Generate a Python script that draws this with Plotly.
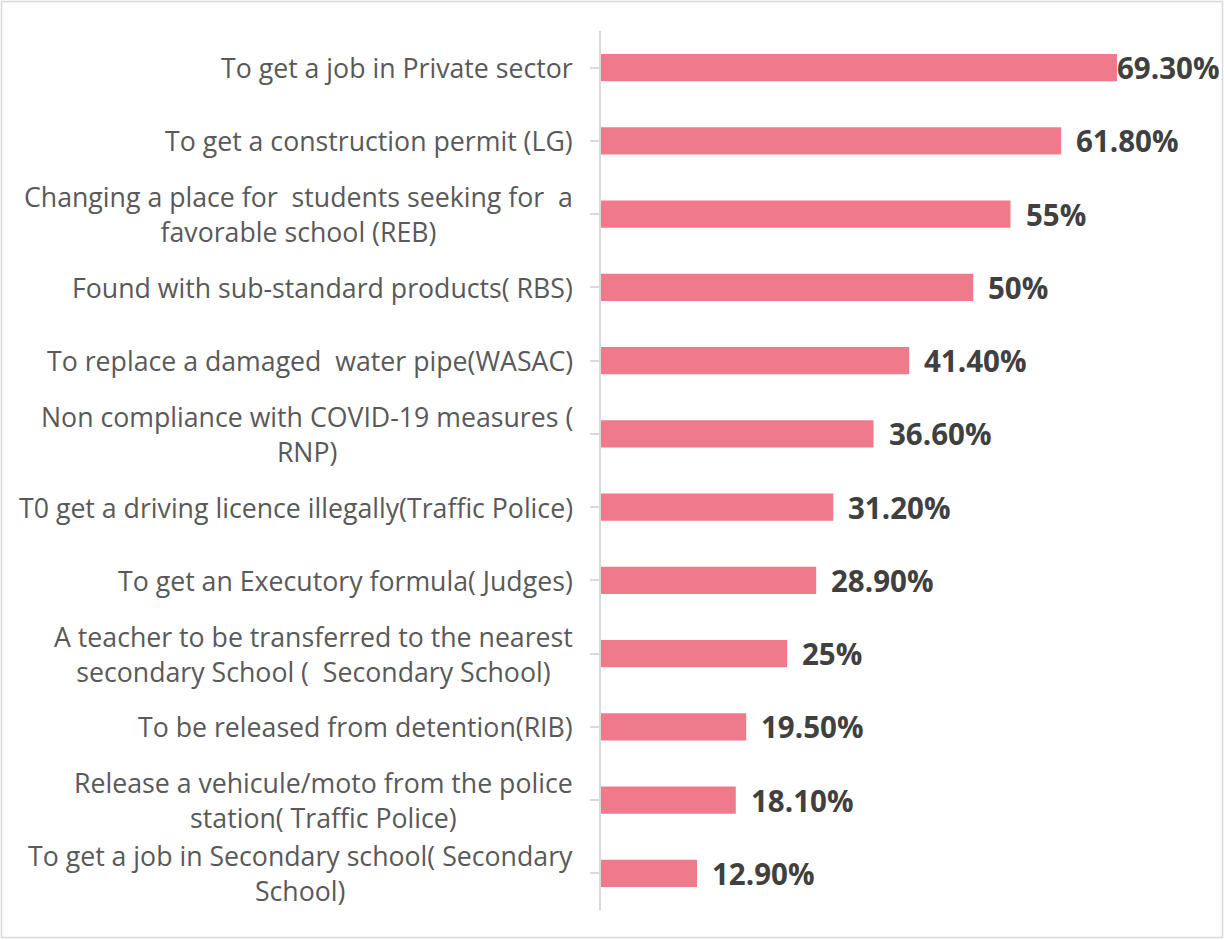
import plotly.graph_objects as go

categories = [
    "To get a job in Private sector",
    "To get a construction permit (LG)",
    "Changing a place for  students seeking for  a<br>favorable school (REB)",
    "Found with sub-standard products( RBS)",
    "To replace a damaged  water pipe(WASAC)",
    "Non compliance with COVID-19 measures (<br>RNP)",
    "T0 get a driving licence illegally(Traffic Police)",
    "To get an Executory formula( Judges)",
    "A teacher to be transferred to the nearest<br>secondary School (  Secondary School)",
    "To be released from detention(RIB)",
    "Release a vehicule/moto from the police<br>station( Traffic Police)",
    "To get a job in Secondary school( Secondary<br>School)",
]
values = [69.3, 61.8, 55, 50, 41.4, 36.6, 31.2, 28.9, 25, 19.5, 18.1, 12.9]
value_labels = ["69.30%", "61.80%", "55%", "50%", "41.40%", "36.60%",
                "31.20%", "28.90%", "25%", "19.50%", "18.10%", "12.90%"]

W, H = 1224, 940
L, R, T, B = 601, 5, 31, 30
pw, ph = W - L - R, H - T - B
PX_PER_UNIT = 7.446
xmax = pw / PX_PER_UNIT

fig = go.Figure(go.Bar(
    x=values, y=list(range(len(categories))), orientation="h",
    marker=dict(color="#EF7A8C", line=dict(width=0)),
    hoverinfo="skip",
))

# category labels drawn as centred multi-line annotations
for i, c in enumerate(categories):
    fig.add_annotation(x=0, y=i, xref="x", yref="y", text=c, showarrow=False,
                       xanchor="right", yanchor="middle", align="center",
                       xshift=-26,
                       font=dict(family="Open Sans", size=26.7, color="#595959"))

# value labels at the end of each bar; pulled in when near the right edge
for i, (v, lab) in enumerate(zip(values, value_labels)):
    est_w = 17 * len(lab)
    room = (xmax - v) * PX_PER_UNIT - est_w
    gap = max(0, min(15, room))
    fig.add_annotation(x=v, y=i, xref="x", yref="y", text=lab, showarrow=False,
                       xanchor="left", yanchor="middle", xshift=gap - 2,
                       font=dict(family="Open Sans", size=29.5, color="#404040",
                                 weight="bold"))

# outer frame
fig.add_shape(type="rect", xref="paper", yref="paper",
              x0=(1.5 - L) / pw, x1=(W - 1.5 - L) / pw,
              y0=(H - B - (H - 2.5)) / ph, y1=(H - B - 1.5) / ph,
              line=dict(color="#d9d9d9", width=1.5), layer="below")

fig.update_layout(
    width=W, height=H, margin=dict(l=L, r=R, t=T, b=B),
    paper_bgcolor="white", plot_bgcolor="white",
    bargap=0.63, showlegend=False,
    xaxis=dict(range=[0, xmax], visible=False),
    yaxis=dict(
        tickmode="array", tickvals=list(range(len(categories))),
        ticktext=[""] * len(categories),
        range=[len(categories) - 0.5, -0.5],
        showline=True, linecolor="#d9d9d9", linewidth=2,
        ticks="outside", tickson="boundaries", ticklen=9,
        tickcolor="#d9d9d9", tickwidth=2, showgrid=False, zeroline=False,
    ),
)

fig.write_html("out.html")
